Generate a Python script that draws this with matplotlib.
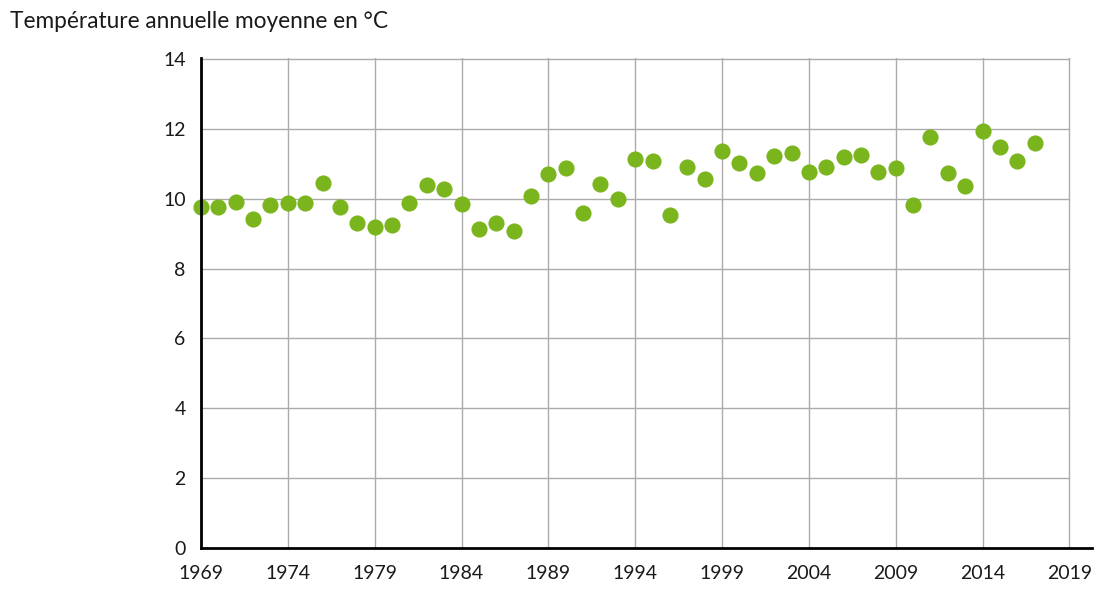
import matplotlib
matplotlib.use("Agg")
import matplotlib.pyplot as plt
import numpy as np

# Température annuelle moyenne (°C), 1969-2017
annees = list(range(1969, 2018))
temperatures = [
    9.77, 9.77, 9.91, 9.43, 9.83, 9.89, 9.89, 10.46, 9.77, 9.31,
    9.20, 9.26, 9.89, 10.40, 10.29, 9.86, 9.14, 9.31, 9.09, 10.09,
    10.71, 10.89, 9.60, 10.43, 10.00, 11.14, 11.09, 9.54, 10.91, 10.57,
    11.37, 11.03, 10.74, 11.23, 11.31, 10.77, 10.91, 11.20, 11.26, 10.77,
    10.89, 9.83, 11.77, 10.74, 10.37, 11.94, 11.49, 11.09, 11.60,
]
x_ticks = list(range(1969, 2020, 5))
y_ticks = list(range(0, 15, 2))

titre = "Température annuelle moyenne en °C"
vert = "#7ab51d"
gris = "#ababab"

plt.rcParams['font.family'] = ['Lato', 'DejaVu Sans']

fig = plt.figure(figsize=(10.96, 5.92), dpi=100)
ax = fig.add_axes([201 / 1096, 1 - 548 / 592, (1092 - 201) / 1096, (548 - 58) / 592])

ax.scatter(annees, temperatures, s=135, color=vert, zorder=3, clip_on=False, linewidths=0)

ax.set_xlim(1969, 2020.3)
ax.set_ylim(0, 14.03)
ax.set_xticks(x_ticks)
ax.set_yticks(y_ticks)
ax.tick_params(length=0, labelsize=14, colors="#1a1a1a")
ax.tick_params(axis='y', pad=11)
ax.tick_params(axis='x', pad=12)

# grille
for xv in x_ticks[1:]:
    ax.axvline(xv, color=gris, lw=1, zorder=1)
for yv in y_ticks[1:]:
    ax.axhline(yv, color=gris, lw=1, xmax=(2019 - 1969) / (2020.3 - 1969), zorder=1)

for s in ['top', 'right']:
    ax.spines[s].set_visible(False)
for s in ['left', 'bottom']:
    ax.spines[s].set_linewidth(2)
    ax.spines[s].set_color("black")
    ax.spines[s].set_zorder(4)

fig.text(10 / 1096, 1 - 22 / 592, titre, fontsize=16.3, va='center', ha='left', color="#1a1a1a")

fig.savefig("out.png", dpi=100)
